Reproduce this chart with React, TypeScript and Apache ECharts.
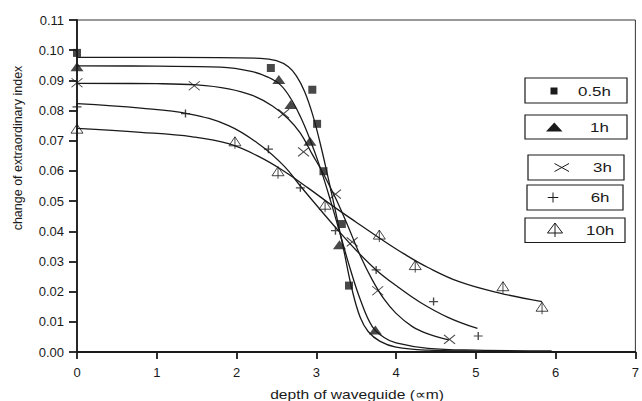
import React, { useEffect, useRef } from "react";
import * as echarts from "echarts";

// ---- measured data points (depth µm, change of extraordinary index) ----
const pts05h = [[0, 0.0991], [2.43, 0.0941], [2.95, 0.0869], [3.01, 0.0756], [3.09, 0.0599], [3.32, 0.0424], [3.41, 0.022]];
const pts1h = [[0, 0.0945], [2.53, 0.0903], [2.68, 0.082], [2.92, 0.0698], [3.29, 0.0355], [3.74, 0.0073]];
const pts3h = [[0, 0.0892], [1.47, 0.0882], [2.59, 0.079], [2.84, 0.0663], [3.24, 0.0523], [3.45, 0.0365], [3.77, 0.0203], [4.67, 0.0042]];
const pts6h = [[0, 0.0812], [1.36, 0.079], [2.4, 0.0672], [2.8, 0.0544], [3.24, 0.0402], [3.75, 0.0272], [4.47, 0.0167], [5.03, 0.0053]];
const pts10h = [[0, 0.0735], [1.98, 0.0693], [2.52, 0.0594], [3.11, 0.0483], [3.79, 0.0384], [4.24, 0.0283], [5.34, 0.0213], [5.83, 0.0145]];

// ---- fitted curves ----
const fit05h = [[0, 0.0976], [1.2, 0.0976], [2.3, 0.0973], [2.5, 0.0965], [2.65, 0.0945], [2.75, 0.0915], [2.85, 0.0865], [2.95, 0.079], [3.05, 0.069], [3.15, 0.0575], [3.25, 0.0455], [3.35, 0.033], [3.45, 0.0205], [3.55, 0.0115], [3.65, 0.0068], [3.8, 0.0035], [4.0, 0.0016], [4.4, 0.0006], [5.2, 0.0002]];
const fit1h = [[0, 0.0948], [1.0, 0.0947], [1.8, 0.0944], [2.2, 0.0929], [2.4, 0.091], [2.55, 0.0885], [2.68, 0.084], [2.8, 0.078], [2.92, 0.0705], [3.05, 0.061], [3.18, 0.05], [3.3, 0.039], [3.42, 0.028], [3.55, 0.0175], [3.7, 0.0085], [3.85, 0.0048], [4.0, 0.003], [4.4, 0.0012], [5.0, 0.0006], [5.95, 0.0004]];
const fit3h = [[0, 0.089], [1.0, 0.0889], [1.5, 0.0885], [1.9, 0.0872], [2.2, 0.085], [2.45, 0.0815], [2.65, 0.0772], [2.8, 0.0725], [2.95, 0.0655], [3.1, 0.0585], [3.25, 0.0505], [3.4, 0.0415], [3.55, 0.032], [3.7, 0.024], [3.85, 0.0175], [4.0, 0.0128], [4.2, 0.0085], [4.4, 0.006], [4.66, 0.004]];
const fit6h = [[0, 0.0823], [0.8, 0.0808], [1.4, 0.0789], [1.9, 0.075], [2.3, 0.0685], [2.6, 0.0615], [2.8, 0.055], [3.0, 0.0487], [3.25, 0.041], [3.5, 0.0337], [3.75, 0.0272], [4.0, 0.022], [4.3, 0.0165], [4.65, 0.0115], [5.02, 0.0078]];
const fit10h = [[0, 0.0741], [0.8, 0.0728], [1.45, 0.0713], [1.9, 0.069], [2.3, 0.0645], [2.6, 0.0598], [2.9, 0.0543], [3.2, 0.0485], [3.5, 0.043], [3.8, 0.0376], [4.1, 0.0325], [4.4, 0.028], [4.8, 0.0232], [5.3, 0.0195], [5.83, 0.0167]];

const legendLabels = ["0.5h", "1h", "3h", "6h", "10h"];
const xTitle = "depth of waveguide (\u221Dm)";
const yTitle = "change of extraordinary index";

const INK = "#1a1a1a";
const FONT = "Liberation Sans, Arial, sans-serif";

export default function App() {
  const ref = useRef<HTMLDivElement>(null);

  useEffect(() => {
    if (!ref.current) return;
    const chart = echarts.init(ref.current, undefined, { renderer: "svg" });

    const curve = (data: number[][]) => ({
      type: "line",
      data,
      smooth: 0.4,
      symbol: "none",
      silent: true,
      lineStyle: { color: INK, width: 1.3 },
      z: 2,
    });
    const scatter = (data: number[][], symbol: string, size: any, filled: boolean, bw = 1) => ({
      type: "scatter",
      data,
      symbol,
      symbolSize: size,
      clip: false,
      itemStyle: filled
        ? { color: INK }
        : { color: "none", borderColor: INK, borderWidth: bw },
      z: 3,
    });

    const text = (str: string, x: number, y: number, extra: any = {}) => ({
      type: "text",
      x,
      y,
      style: {
        text: str,
        font: `13px ${FONT}`,
        fill: INK,
        textAlign: "left",
        textVerticalAlign: "middle",
      },
      ...extra,
    });
    const box = (x: number, y: number, w: number, h: number) => ({
      type: "rect",
      shape: { x, y, width: w, height: h },
      style: { fill: "#fff", stroke: INK, lineWidth: 1.2 },
    });
    const seg = (x1: number, y1: number, x2: number, y2: number) => ({
      type: "line",
      shape: { x1, y1, x2, y2 },
      style: { stroke: INK, lineWidth: 1 },
    });

    const graphic: any[] = [
      // legend boxes
      box(525, 78, 102, 25),
      { type: "rect", shape: { x: 550.5, y: 87.5, width: 7, height: 7 }, style: { fill: INK } },
      text(legendLabels[0], 578, 91, { scaleX: 1.3 }),

      box(525, 115, 102, 24),
      { type: "polygon", shape: { points: [[546, 131.5], [562.5, 131.5], [554.3, 122.5]] }, style: { fill: INK } },
      text(legendLabels[1], 590, 127.5, { scaleX: 1.3 }),

      box(528, 155, 96, 25),
      seg(554.5, 163.5, 569, 171.5),
      seg(554.5, 171.5, 569, 163.5),
      text(legendLabels[2], 593, 167.5, { scaleX: 1.3 }),

      box(527, 185, 96, 25),
      seg(547.7, 197.5, 558.3, 197.5),
      seg(553, 192.5, 553, 202.5),
      text(legendLabels[3], 590.7, 197.5, { scaleX: 1.3 }),

      box(525, 218, 100, 24.5),
      { type: "polygon", shape: { points: [[555, 223], [562.5, 233], [547.5, 233]] }, style: { fill: "none", stroke: INK, lineWidth: 1 } },
      seg(555, 223, 555, 237),
      text(legendLabels[4], 586, 230.5, { scaleX: 1.3 }),

      // axis titles
      {
        type: "text",
        x: 357,
        y: 394,
        scaleX: 1.2,
        style: { text: xTitle, font: `13px ${FONT}`, fill: INK, textAlign: "center", textVerticalAlign: "middle" },
      },
      {
        type: "text",
        x: 18,
        y: 148,
        rotation: Math.PI / 2,
        style: { text: yTitle, font: `12.5px ${FONT}`, fill: INK, textAlign: "center", textVerticalAlign: "middle" },
      },
    ];

    chart.setOption({
      animation: false,
      backgroundColor: "#fff",
      grid: { left: 77, right: 5, top: 20, bottom: 49, show: true, borderColor: "#333", borderWidth: 1 },
      xAxis: {
        type: "value",
        min: 0,
        max: 7,
        interval: 1,
        splitLine: { show: false },
        axisLine: { show: true, onZero: false, lineStyle: { color: INK, width: 1.8 } },
        axisTick: { show: true, inside: false, length: 7, lineStyle: { color: INK, width: 1.8 } },
        axisLabel: { color: INK, fontSize: 13, fontFamily: FONT, margin: 14 },
      },
      yAxis: {
        type: "value",
        min: 0,
        max: 0.11,
        interval: 0.01,
        splitLine: { show: false },
        axisLine: { show: true, onZero: false, lineStyle: { color: INK, width: 1.8 } },
        axisTick: { show: true, inside: false, length: 8, lineStyle: { color: INK, width: 1.8 } },
        axisLabel: {
          color: INK,
          fontSize: 13,
          fontFamily: FONT,
          margin: 13,
          formatter: (v: number) => v.toFixed(2),
        },
      },
      graphic,
      series: [
        curve(fit05h),
        curve(fit1h),
        curve(fit3h),
        curve(fit6h),
        curve(fit10h),
        scatter(pts05h, "rect", 8, true),
        scatter(pts1h, "triangle", [13, 9], true),
        scatter(pts3h, "path://M0,0L10,8M10,0L0,8", [11, 9], false, 1),
        scatter(pts6h, "path://M5,0L5,10M0,5L10,5", [9, 8], false, 1.3),
        scatter(pts10h, "path://M6,0L12,9L0,9ZM6,0L6,12", [12, 12], false, 1),
      ],
    });

    return () => chart.dispose();
  }, []);

  return (
    <div
      ref={ref}
      style={{ position: "fixed", left: 0, top: 0, width: 642, height: 401, background: "#fff" }}
    />
  );
}
